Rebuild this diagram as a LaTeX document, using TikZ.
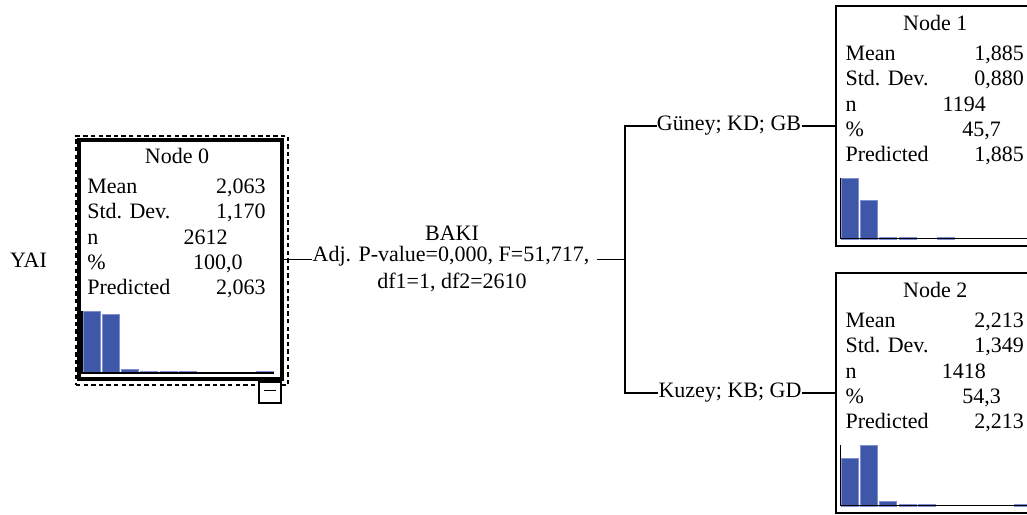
\documentclass[tikz,border=0pt]{standalone}
\usepackage{fontspec}
\setmainfont{Liberation Serif}
\usetikzlibrary{positioning}
\definecolor{barblue}{RGB}{63,87,168}
\definecolor{baredge}{RGB}{125,145,210}

\begin{document}
\begin{tikzpicture}[
    x=0.5pt, y=-0.5pt,
    every node/.style={font=\fontsize{11}{13}\selectfont},
    treebox/.style={rectangle, draw, line width=0.8pt, fill=white, minimum width=101.5pt, minimum height=120pt, inner sep=0},
    rootbox/.style={treebox, line width=2pt, minimum height=119.5pt},
    select/.style={rectangle, draw, line width=0.9pt, dash pattern=on 2.2pt off 1.6pt, minimum width=106pt, minimum height=124.5pt},
    toggle/.style={rectangle, draw, fill=white, line width=0.6pt, minimum width=11pt, minimum height=10.5pt, inner sep=0},
    txt/.style={inner sep=0},
    statname/.style={inner sep=0, anchor=base west},
    statval/.style={inner sep=0, anchor=base east},
    bar/.style={fill=barblue, draw=baredge, line width=0.3pt},
    link/.style={line width=0.6pt}
]
    \useasboundingbox (0,0) rectangle (1027,514);
    \clip (0,0) rectangle (1027,514);

    % Root node
    \node[select] (sel0) at (182,260.5) {};
    \node[rootbox] (node0) at (180.5,259.5) {};
    \node[toggle] (tog0) at (270,392.5) {};
    \draw[line width=0.6pt] ([xshift=-3.2pt, yshift=0.9pt]tog0.center) -- ([xshift=3.2pt, yshift=0.9pt]tog0.center);
    \node[txt] (target) at (28.5,260) {YAI};

    % Child nodes
    \node[treebox] (node1) at (937.5,126) {};
    \node[treebox] (node2) at (937.5,393) {};

    % Texts in the boxes
    \foreach \bx/\num/\m/\s/\n/\p in {node0/0/{2,063}/{1,170}/2612/{100,0},
                                     node1/1/{1,885}/{0,880}/1194/{45,7},
                                     node2/2/{2,213}/{1,349}/1418/{54,3}} {
        \begin{scope}[shift={(\bx.north west)}]
            \node[txt, anchor=base] (\bx title) at (100,25) {Node \num};
            \node[statname] (\bx meanl) at (10,55) {Mean};
            \node[statval] (\bx meanv) at (189,55) {\m};
            \node[statname] (\bx sdl) at (10,80.5) {Std. Dev.};
            \node[statval] (\bx sdv) at (189,80.5) {\s};
            \node[statname] (\bx nl) at (10,106) {n};
            \node[statval] (\bx nv) at (151,106) {\n};
            \node[statname] (\bx pctl) at (10,131) {\%};
            \node[statval] (\bx pctv) at (166,131) {\p};
            \node[statname] (\bx predl) at (10,156.5) {Predicted};
            \node[statval] (\bx predv) at (189,156.5) {\m};
        \end{scope}
    }

    % Histograms
    \foreach \bx/\top/\hs in {node0/62/{0/62,1/59,2/4,3/2,4/2,5/2,9/2},
                              node1/61/{0/61,1/39,2/2,3/2,5/2},
                              node2/61/{0/48,1/61,2/5,3/2,4/2,9/2}} {
        \begin{scope}[shift={(\bx.south west)}]
            \foreach \i/\h in \hs
                \draw[bar] (6+19.2*\i,-8) rectangle ++(17,-\h);
            \draw[line width=0.6pt] (5,-8-\top) -- (5,-8) -- (197,-8);
        \end{scope}
    }

    % Split labels
    \node[txt] (split) at (451,256) {Adj. P-value=0,000, F=51,717,};
    \node[txt] (splitvar) at (452,233) {BAKI};
    \node[txt] (splitdf) at (452,282) {df1=1, df2=2610};
    \node[txt] (cond1) at (729,126) {Güney; KD; GB};
    \node[txt] (cond2) at (730,393) {Kuzey; KB; GD};
    \coordinate (fork) at (625,259.5);

    % Connectors
    \draw[link] (node0.east) -- (node0.east -| split.west);
    \draw[link] ([xshift=3.5pt]split.east |- node0.east) -- (fork);
    \draw[link] (cond1.west) -| (fork) |- (cond2.west);
    \draw[link] (cond1.east) -- (node1.west);
    \draw[link] (cond2.east) -- (node2.west);
\end{tikzpicture}
\end{document}
